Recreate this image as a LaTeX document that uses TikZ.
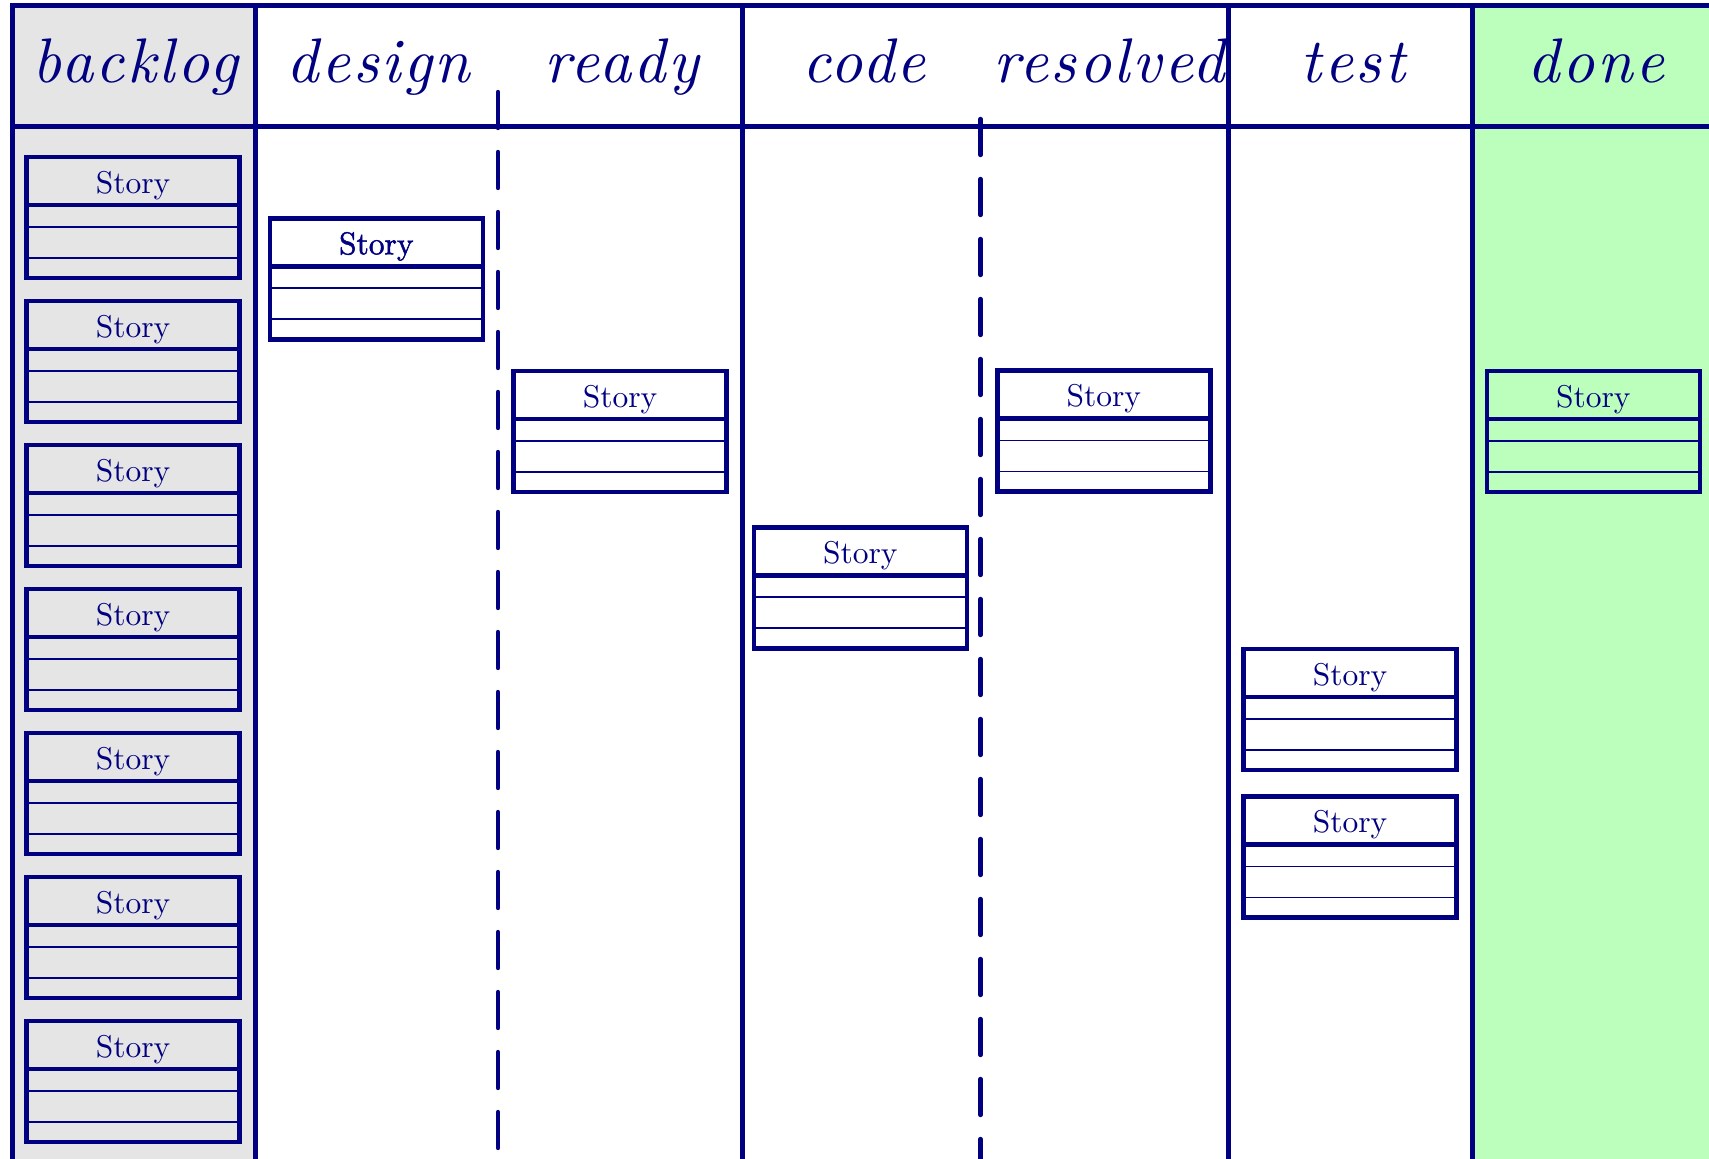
\documentclass[tikz,border=0pt]{standalone}
\usepackage{fontspec}
\usetikzlibrary{calc}

% Latin Modern at its 10pt design size, scaled up
\newfontfamily\lmrm{lmroman10-regular.otf}
\newfontfamily\lmit{lmroman10-italic.otf}[LetterSpace=4]
\newfontfamily\lmrmheavy{lmroman10-regular.otf}[FakeBold=1.5]

\definecolor{boardink}{RGB}{0,0,128}
\definecolor{backlogfill}{RGB}{229,229,229}
\definecolor{donefill}{RGB}{188,255,188}

\tikzset{
  gridline/.style={draw=boardink, line width=5pt},
  lanesplit/.style={draw=boardink, line width=4.4pt, dash pattern=on 36pt off 24pt, line cap=round},
  lanehead/.style={text=boardink, font=\lmit\fontsize{63}{70}\selectfont, anchor=base, inner sep=0pt},
  card/.style={draw=boardink, line width=4.6pt, rectangle, minimum width=213pt, minimum height=121pt,
    inner sep=0pt, outer sep=0pt, anchor=north},
  cardrule/.style={draw=boardink, line width=4.6pt},
  cardline/.style={draw=boardink, line width=1.7pt},
  cardtitle/.style={text=boardink, anchor=base, inner sep=0pt},
}

% \storycard[font]{name}{x of centre}{y of top edge}
\newcommand\storycard[4][\lmrm]{%
  \node[card] (#2) at (#3,#4) {};
  \draw[cardrule] ($(#2.north west)+(0,48)$) -- ($(#2.north east)+(0,48)$);
  \draw[cardline] ($(#2.north west)+(0,70)$) -- ($(#2.north east)+(0,70)$);
  \draw[cardline] ($(#2.north west)+(0,101)$) -- ($(#2.north east)+(0,101)$);
  \node[cardtitle, font=#1\fontsize{31.5}{36}\selectfont] (#2-title) at ($(#2.north)+(0,36)$) {Story};
}

\begin{document}
\begin{tikzpicture}[x=1pt, y=-1pt]
  \useasboundingbox (0,0) rectangle (1709,1159);
  \clip (0,0) rectangle (1709,1159);

  % lane backgrounds
  \fill[backlogfill] (12,5) rectangle (255,1220);
  \fill[donefill] (1472,5) rectangle (1730,1220);

  % board frame and lane dividers
  \draw[gridline] (12,1220) -- (12,5.3) -- (1730,5.3);
  \draw[gridline] (12,126.3) -- (1730,126.3);
  \foreach \xx in {255,742,1228,1472}
    \draw[gridline] (\xx,5.3) -- (\xx,1220);
  \draw[lanesplit] (498,92) -- (498,1220);
  \draw[lanesplit] (980.5,119) -- (980.5,1220);

  % lane headings
  \node[lanehead] (h-backlog)  at (135.5,82) {backlog};
  \node[lanehead] (h-design)   at (378.5,82) {design};
  \node[lanehead] (h-ready)    at (622,82)   {ready};
  \node[lanehead] (h-code)     at (864,82)   {code};
  \node[lanehead] (h-resolved) at (1109,82)  {resolved};
  \node[lanehead] (h-test)     at (1353,82)  {test};
  \node[lanehead] (h-done)     at (1596,82)  {done};

  % backlog stories
  \foreach \k in {0,...,6}
    \storycard{backlog-\k}{133}{157+144*\k};

  % stories in progress
  \storycard[\lmrmheavy]{design-1}{376.3}{218.3}
  \storycard{ready-1}{620}{371}
  \storycard{code-1}{860.3}{527.3}
  \storycard{resolved-1}{1103.8}{370.5}
  \storycard{test-1}{1350}{649}
  \storycard{test-2}{1350}{796.5}
  \storycard{done-1}{1593.3}{371}
\end{tikzpicture}
\end{document}
